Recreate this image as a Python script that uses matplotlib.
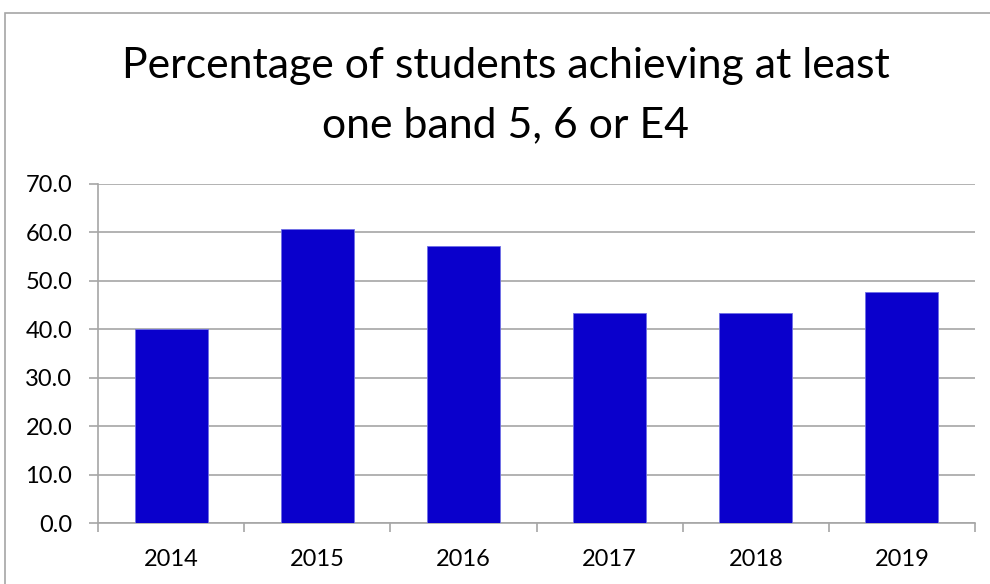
import matplotlib.pyplot as plt
from matplotlib.patches import Rectangle

# Data
years = ['2014', '2015', '2016', '2017', '2018', '2019']
percent = [40.0, 60.8, 57.2, 43.4, 43.3, 47.6]
y_ticks = [0, 10, 20, 30, 40, 50, 60, 70]

W, H = 990, 584
plt.rcParams['font.family'] = ['Lato', 'DejaVu Sans']

fig = plt.figure(figsize=(W / 100, H / 100), dpi=100)

# chart area border (only top and left visible in the crop)
fig.patches.append(Rectangle((4.5 / W, -0.1), 1.2, 1.1 - 12.5 / H,
                             transform=fig.transFigure, fill=False,
                             edgecolor='#a6a6a6', linewidth=1.2))

ax = fig.add_axes([98 / W, 1 - 523 / H, (975 - 98) / W, (523 - 184) / H])

x = range(len(years))
ax.bar(x, percent, width=0.5, color='#0a00cc', edgecolor='#6f6fe6',
       linewidth=0.6, zorder=3)

ax.set_xlim(-0.5, len(years) - 0.5)
ax.set_ylim(0, 70)
ax.set_yticks(y_ticks)
ax.set_yticklabels([f'{v:.1f}' for v in y_ticks])
ax.yaxis.grid(True, color='#a6a6a6', linewidth=1.2, zorder=0)

# category labels at centres, tick marks at boundaries
ax.set_xticks(list(x))
ax.set_xticklabels(years)
ax.set_xticks([i - 0.5 for i in range(len(years) + 1)], minor=True)
ax.tick_params(axis='x', which='major', length=0, pad=19, labelsize=17)
ax.tick_params(axis='x', which='minor', length=6.5, color='#a6a6a6', width=1.2)
ax.tick_params(axis='y', length=6.5, color='#a6a6a6', width=1.2, pad=12,
               labelsize=17)

for side in ['top', 'right']:
    ax.spines[side].set_visible(False)
for side in ['left', 'bottom']:
    ax.spines[side].set_color('#a6a6a6')
    ax.spines[side].set_linewidth(1.2)

fig.text(506 / W, 1 - 66 / H, 'Percentage of students achieving at least',
         ha='center', va='center', fontsize=30.8)
fig.text(506 / W, 1 - 125 / H, 'one band 5, 6 or E4',
         ha='center', va='center', fontsize=30.8)

fig.savefig('out.png', dpi=100)
